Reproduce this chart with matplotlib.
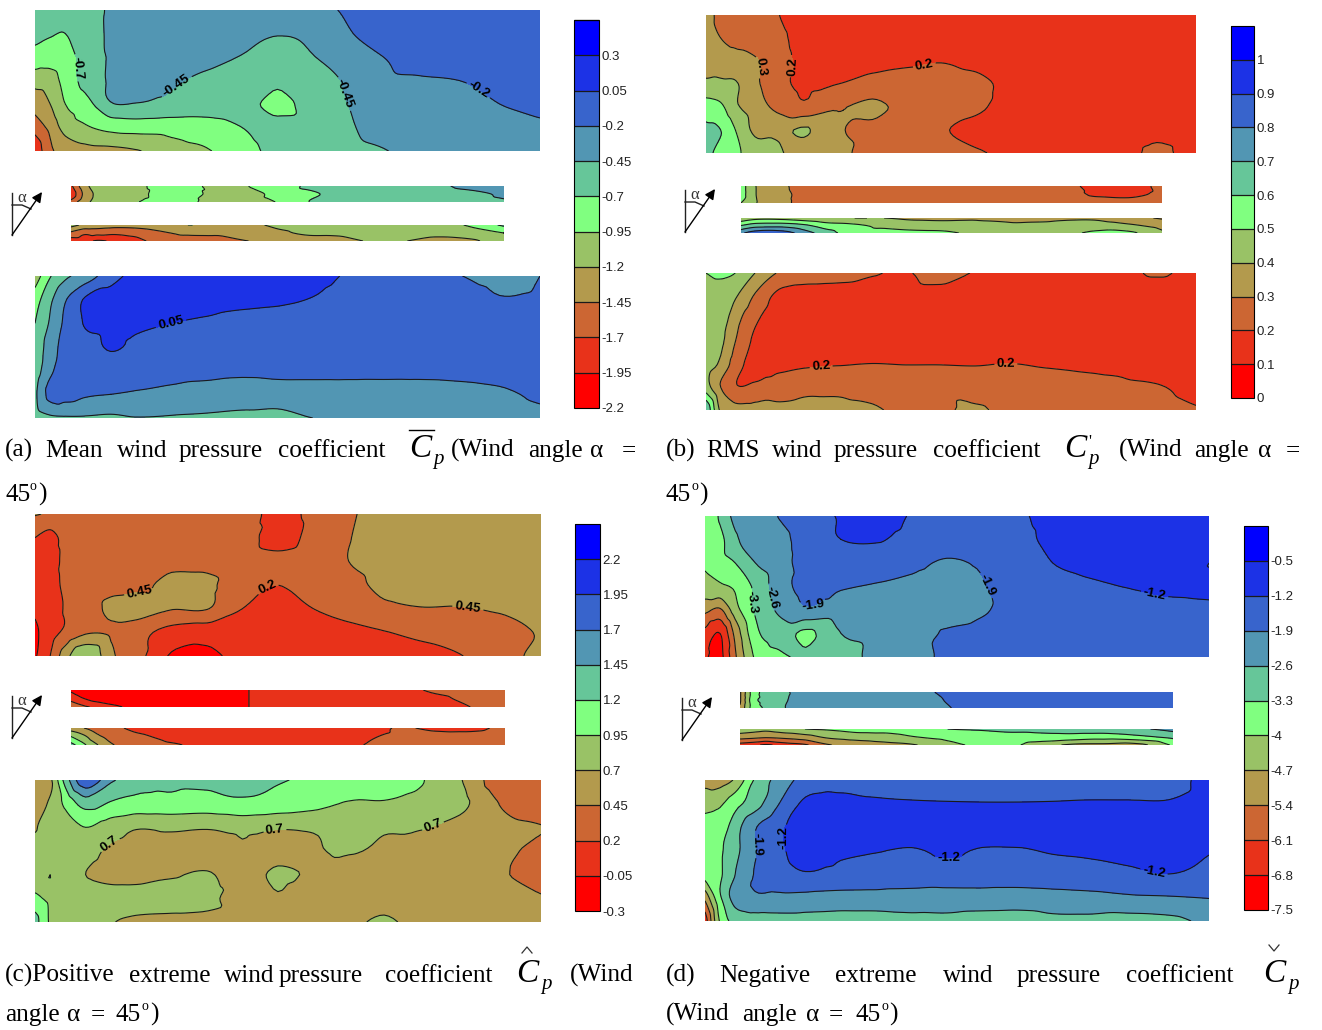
import numpy as np
import matplotlib
matplotlib.use('Agg')
import matplotlib.pyplot as plt
import matplotlib.tri as mtri
from matplotlib.cm import ScalarMappable
from matplotlib.colors import ListedColormap, BoundaryNorm

W, H = 1322, 1030

# ---------------- Shared scale ----------------
band_colors = ['#FF0000', '#E8321A', '#CC6633', '#B39A4D', '#99C266', '#80FF80',
               '#66C699', '#5296B3', '#3864CC', '#1C32E6', '#0000FF']

levels_a = [-2.2, -1.95, -1.7, -1.45, -1.2, -0.95, -0.7, -0.45, -0.2, 0.05, 0.3, 0.55]
levels_b = [0, 0.1, 0.2, 0.3, 0.4, 0.5, 0.6, 0.7, 0.8, 0.9, 1, 1.1]
levels_c = [-0.3, -0.05, 0.2, 0.45, 0.7, 0.95, 1.2, 1.45, 1.7, 1.95, 2.2, 2.45]
levels_d = [-7.5, -6.8, -6.1, -5.4, -4.7, -4, -3.3, -2.6, -1.9, -1.2, -0.5, 0.2]

# position along each strip (fraction of its width), same for all strips
stations = [0, .03, .06, .10, .15, .20, .27, .34, .41, .48, .55, .62, .69, .76, .84, .92, 1]

# ---------------- (a) mean ----------------
a_top = [
    [-.6, -.6, -.6, -.55, -.42, -.33, -.3, -.3, -.3, -.3, -.27, -.17, -.08, -.05, -.05, -.05, -.05],
    [-.62, -.68, -.7, -.55, -.42, -.33, -.3, -.3, -.38, -.44, -.4, -.22, -.1, -.05, -.05, -.05, -.05],
    [-.8, -.82, -.78, -.62, -.42, -.33, -.33, -.38, -.46, -.52, -.46, -.3, -.2, -.12, -.12, -.08, -.05],
    [-1.1, -1.08, -.85, -.62, -.42, -.35, -.42, -.5, -.55, -.64, -.55, -.42, -.25, -.22, -.2, -.15, -.1],
    [-1.35, -1.2, -.95, -.8, -.47, -.46, -.52, -.55, -.57, -.8, -.55, -.45, -.32, -.3, -.27, -.2, -.12],
    [-1.6, -1.38, -1.1, -.98, -.88, -.85, -.85, -.82, -.7, -.6, -.55, -.47, -.38, -.33, -.3, -.3, -.25],
    [-1.9, -1.5, -1.38, -1.3, -1.28, -1.22, -1.05, -.97, -.8, -.62, -.55, -.5, -.46, -.38, -.33, -.33, -.3],
]
a_mid1 = [
    [-1.75, -1.3, -1.1, -1.05, -1.05, -.85, -.85, -1.05, -.95, -.85, -.65, -.62, -.6, -.58, -.5, -.4, -.38],
    [-1.9, -1.4, -1.15, -1.1, -1.1, -.85, -.85, -1.05, -1.05, -.85, -.75, -.62, -.6, -.6, -.55, -.5, -.42],
    [-1.6, -1.3, -1.12, -1.08, -.97, -.82, -.9, -1.05, -1.05, -.93, -.7, -.62, -.6, -.6, -.58, -.5, -.47],
]
a_mid2 = [
    [-1.1, -1.25, -1.3, -1.35, -1.35, -1.3, -1.2, -1.25, -1.25, -1.15, -1.1, -1.08, -1.05, -1.05, -1.05, -.92, -.65],
    [-1.5, -1.65, -1.62, -1.65, -1.6, -1.5, -1.4, -1.38, -1.3, -1.25, -1.15, -1.15, -1.12, -1.1, -1.12, -1.05, -.95],
    [-1.85, -1.85, -1.98, -1.9, -1.8, -1.6, -1.6, -1.65, -1.45, -1.42, -1.35, -1.3, -1.18, -1.18, -1.3, -1.25, -1.05],
]
a_bottom = [
    [-1.1, -.72, -.5, -.35, -.05, .12, .15, .15, .15, .15, .12, .03, -.02, -.1, -.19, -.32, -.2],
    [-.82, -.5, -.22, .08, .12, .13, .13, .12, .1, .08, .04, -.03, -.05, -.05, -.02, -.18, -.15],
    [-.7, -.42, -.15, .07, .11, .08, .05, .02, -.02, -.03, -.05, -.05, -.05, -.07, -.07, -.08, -.08],
    [-.65, -.32, -.12, -.04, .07, .01, -.05, -.06, -.06, -.06, -.06, -.06, -.06, -.06, -.06, -.06, -.06],
    [-.6, -.25, -.1, -.05, -.06, -.08, -.1, -.12, -.15, -.13, -.13, -.13, -.13, -.13, -.12, -.1, -.08],
    [-.5, -.12, -.1, -.17, -.2, -.23, -.28, -.33, -.35, -.34, -.33, -.33, -.33, -.33, -.3, -.25, -.15],
    [-.6, -.5, -.48, -.48, -.5, -.46, -.47, -.48, -.5, -.52, -.45, -.42, -.4, -.41, -.38, -.33, -.28],
]

# ---------------- (b) rms ----------------
b_top = [
    [.33, .28, .26, .25, .2, .15, .12, .12, .12, .12, .12, .12, .12, .12, .12, .12, .12],
    [.33, .3, .28, .25, .22, .16, .13, .13, .13, .13, .13, .13, .13, .13, .13, .13, .13],
    [.36, .34, .33, .31, .24, .17, .15, .16, .18, .195, .17, .14, .13, .13, .13, .13, .13],
    [.42, .42, .41, .32, .23, .18, .2, .24, .25, .25, .23, .17, .13, .13, .13, .13, .13],
    [.55, .52, .42, .35, .27, .22, .29, .32, .27, .25, .22, .16, .13, .13, .13, .13, .13],
    [.62, .6, .5, .38, .38, .41, .31, .28, .26, .21, .17, .14, .12, .12, .13, .17, .14],
    [.65, .55, .52, .45, .41, .35, .32, .27, .26, .23, .21, .18, .15, .14, .15, .22, .15],
]
b_mid1 = [
    [.55, .42, .33, .31, .27, .24, .24, .25, .25, .25, .25, .25, .25, .24, .17, .15, .23],
    [.55, .42, .34, .32, .27, .24, .24, .25, .25, .25, .25, .25, .25, .24, .19, .17, .23],
    [.5, .42, .35, .32, .27, .24, .24, .25, .25, .25, .25, .25, .25, .25, .25, .25, .23],
]
b_mid2 = [
    [.42, .46, .47, .46, .43, .41, .4, .4, .38, .37, .38, .38, .37, .38, .38, .33, .29],
    [.6, .65, .66, .66, .62, .55, .52, .47, .45, .45, .45, .42, .42, .43, .45, .42, .36],
    [.78, .85, .88, .85, .75, .65, .55, .55, .53, .52, .48, .44, .43, .46, .52, .52, .42],
]
b_bottom = [
    [.5, .52, .5, .4, .29, .27, .25, .21, .19, .27, .19, .17, .17, .17, .17, .21, .17],
    [.45, .45, .41, .29, .17, .14, .14, .14, .14, .14, .14, .14, .14, .14, .14, .14, .14],
    [.44, .45, .34, .22, .14, .12, .12, .12, .12, .12, .12, .12, .12, .12, .12, .12, .12],
    [.44, .42, .3, .18, .13, .12, .12, .12, .12, .12, .12, .12, .12, .12, .12, .12, .12],
    [.45, .38, .25, .16, .17, .185, .195, .203, .198, .198, .195, .203, .19, .18, .165, .13, .12],
    [.45, .3, .21, .22, .26, .28, .28, .27, .27, .28, .26, .25, .25, .24, .23, .21, .16],
    [.7, .38, .34, .34, .32, .32, .32, .31, .28, .29, .31, .28, .28, .28, .26, .24, .21],
]

# ---------------- (c) positive extreme ----------------
c_top = [
    [.47, .42, .33, .32, .32, .32, .32, .32, .28, .15, .25, .42, .52, .55, .55, .55, .55],
    [.2, .1, .3, .33, .33, .33, .33, .33, .29, .12, .27, .44, .54, .56, .56, .56, .56],
    [.1, .08, .27, .33, .34, .34, .4, .38, .32, .26, .33, .45, .52, .55, .55, .55, .55],
    [.05, .1, .25, .33, .38, .4, .5, .5, .28, .2, .3, .38, .5, .52, .52, .54, .55],
    [-.02, .08, .22, .33, .5, .55, .46, .46, .2, .12, .2, .3, .4, .44, .44, .47, .48],
    [-.1, .1, .25, .42, .42, .3, .1, .05, .1, .07, .07, .13, .19, .25, .3, .37, .47],
    [-.08, .2, .6, .95, .5, .3, -.08, -.12, .05, .06, .07, .08, .1, .12, .19, .35, .53],
]
c_mid1 = [
    [-.1, -.2, -.2, -.2, -.2, -.2, -.2, -.2, -.05, .05, .05, .05, .05, .1, .25, .3, .3],
    [.1, -.05, -.15, -.2, -.2, -.2, -.2, -.2, -.05, .05, .05, .05, .05, .07, .15, .25, .3],
    [.45, .25, .15, 0, -.12, -.2, -.2, -.2, -.05, .05, .05, .05, .05, .05, .1, .2, .28],
]
c_mid2 = [
    [.55, .45, .35, .28, .1, .05, .05, .05, .05, .05, .05, .08, .12, .22, .15, .15, .25],
    [.95, .75, .5, .38, .27, .17, .05, .05, .05, .05, .05, .1, .18, .25, .27, .27, .3],
    [1.3, 1, .72, .45, .35, .28, .18, .05, .05, .05, .05, .13, .22, .3, .32, .32, .32],
]
c_bottom = [
    [.5, .65, 1.3, 1.9, 1.5, 1.3, 1.25, 1.25, 1.25, 1.22, 1.15, 1.1, 1.05, .97, .72, .3, .35],
    [.5, .75, 1, 1.3, 1.17, 1.12, 1.12, 1.1, 1.15, 1.1, 1.03, .93, .93, .88, .77, .44, .3],
    [.68, .8, .82, .95, .82, .72, .74, .72, .76, .72, .73, .78, .73, .72, .62, .52, .46],
    [.82, .8, .8, .78, .66, .63, .63, .6, .68, .63, .68, .72, .65, .55, .55, .52, .35],
    [.85, .95, .82, .7, .62, .62, .68, .72, .6, .74, .66, .55, .52, .52, .52, .48, .3],
    [1, .9, .82, .82, .82, .8, .8, .78, .55, .68, .55, .55, .6, .52, .52, .53, .47],
    [1.3, .92, .85, .9, .72, .65, .62, .6, .55, .5, .55, .62, .75, .58, .52, .52, .52],
]

# ---------------- (d) negative extreme ----------------
d_top = [
    [-3.9, -3.2, -2.4, -2.3, -1.85, -1.5, -1.15, -.9, -1.25, -1.5, -1.5, -1.3, -1, -.9, -.9, -1, -1],
    [-3.8, -3.5, -2.7, -2.4, -2.1, -1.6, -1.2, -1.15, -1.4, -1.5, -1.5, -1.4, -1.05, -.95, -.95, -1, -1],
    [-3.9, -3.6, -3.3, -2.6, -2.2, -1.6, -1.6, -1.6, -1.7, -2, -1.8, -1.55, -1.2, -1.05, -1.05, -1.05, -1.2],
    [-4.3, -4.1, -3.9, -3.15, -2.2, -1.7, -1.85, -1.95, -2.1, -2.3, -1.95, -1.6, -1.45, -1.3, -1.18, -1.1, -1.1],
    [-5.2, -5.5, -4.3, -3.2, -2.45, -2, -2.2, -2.25, -2.3, -2.4, -2, -1.6, -1.6, -1.55, -1.5, -1.35, -1.3],
    [-6.3, -6.8, -5.2, -3.5, -3, -3.45, -2.6, -2.45, -2.3, -1.8, -1.6, -1.55, -1.5, -1.5, -1.5, -1.5, -1.5],
    [-6.7, -7, -5.5, -3.9, -3.4, -3.2, -2.9, -2.4, -2.1, -1.8, -1.6, -1.6, -1.6, -1.6, -1.7, -1.85, -1.8],
]
d_mid1 = [
    [-5.5, -3.7, -3.1, -2.75, -2.3, -2.3, -2.3, -2.3, -2.1, -1.75, -1.5, -1.5, -1.5, -1.5, -1.5, -1.5, -1.5],
    [-5.5, -3.6, -3.1, -2.7, -2.3, -2.3, -2.3, -2.3, -2.2, -1.85, -1.5, -1.5, -1.5, -1.5, -1.5, -1.5, -1.5],
    [-5.3, -3.7, -3.2, -2.65, -2.3, -2.3, -2.3, -2.3, -2.25, -1.95, -1.5, -1.5, -1.5, -1.5, -1.5, -1.5, -1.5],
]
d_mid2 = [
    [-4.3, -4.4, -4.5, -4.3, -4, -3.9, -3.7, -3.7, -3.5, -3.3, -3.2, -3, -3, -2.9, -2.9, -2.7, -2.4],
    [-5.1, -5.2, -5.3, -5.2, -5, -4.6, -4.4, -4.3, -4, -3.8, -3.8, -3.7, -3.6, -3.6, -3.7, -3.5, -3.1],
    [-6.4, -6.6, -6.9, -6.5, -6.2, -5.5, -5.1, -4.9, -4.7, -4.2, -3.9, -3.85, -4.3, -4.8, -4.9, -4.9, -3.9],
]
d_bottom = [
    [-4.9, -5, -4.6, -3.2, -2.3, -1.65, -1.55, -1.5, -1.5, -1.5, -1.5, -1.5, -1.5, -1.5, -1.5, -1.45, -.95],
    [-4.3, -4.1, -3.55, -2.9, -1.85, -1.05, -.95, -1.1, -1.15, -1.17, -1.18, -1.18, -1.17, -1.15, -1.15, -1.15, -.95],
    [-3.7, -3.7, -2.9, -1.95, -1.3, -.9, -.85, -.85, -.85, -.85, -.85, -.85, -.85, -.85, -.85, -.85, -.85],
    [-3.7, -3.4, -2.8, -1.95, -1.3, -.95, -1.1, -1.17, -1.25, -1.1, -1.25, -1.25, -1.15, -1.1, -1, -.9, -1.15],
    [-3.8, -3.4, -2.6, -1.85, -1.45, -1.25, -1.4, -1.45, -1.55, -1.5, -1.5, -1.55, -1.5, -1.45, -1.35, -1.2, -1.4],
    [-5.2, -3.4, -2.3, -2, -2.05, -2.1, -2.15, -2.15, -2.15, -2.2, -2.2, -2.2, -2.15, -2.1, -2, -1.95, -1.87],
    [-6.5, -3.9, -3.1, -2.95, -2.9, -2.9, -2.95, -2.95, -2.85, -2.8, -2.9, -2.95, -2.8, -2.8, -2.9, -2.8, -2.4],
]

# ---------------- Contour labels: (along strip, across strip), snapped to the nearest line ----------------
a_top_labels = [(.085, .41), (.29, .585), (.604, .603), (.893, .489)]
a_bottom_labels = [(.27, .345)]
b_top_labels = [(.106, .377), (.165, .377), (.447, .384)]
b_bottom_labels = [(.235, .686), (.612, .657)]
c_top_labels = [(.207, .563), (.468, .57), (.856, .648)]
c_bottom_labels = [(.146, .444), (.474, .345), (.788, .338)]
d_top_labels = [(.091, .61), (.127, .58), (.21, .58), (.55, .504), (.893, .539)]
d_bottom_labels = [(.097, .461), (.153, .411), (.484, .532), (.891, .645)]

cmap = ListedColormap(band_colors)
fig = plt.figure(figsize=(W / 100, H / 100), dpi=100)


def pixel_axes(x0, y0, x1, y1):
    return fig.add_axes([x0 / W, 1 - y1 / H, (x1 - x0) / W, (y1 - y0) / H])


# ---------------- Contour strip ----------------
def draw_strip(rect, values, levels, labels=None):
    ax = pixel_axes(*rect)
    z = np.array(values, dtype=float).ravel()
    across = np.linspace(0, 1, len(values))
    xx, yy = np.meshgrid(stations, across)
    triang = mtri.Triangulation(xx.ravel(), yy.ravel())
    interp = mtri.CubicTriInterpolator(triang, z, kind='geom')
    fine, fine_z = mtri.UniformTriRefiner(triang).refine_field(z, triinterpolator=interp, subdiv=3)
    fine_z = np.clip(fine_z, levels[0] + 1e-3, levels[-1] - 1e-3)
    ax.tricontourf(fine, fine_z, levels=levels, colors=band_colors)
    cs = ax.tricontour(fine, fine_z, levels=levels[1:-1], colors='#1a1a1a',
                       linewidths=0.8, linestyles='solid')
    ax.set_xlim(0, 1)
    ax.set_ylim(1, 0)
    ax.axis('off')
    if labels:
        texts = cs.clabel(manual=labels, fmt='%g', fontsize=9.5, inline=True, inline_spacing=1)
        for t in texts:
            t.set_fontfamily('Liberation Sans')
            t.set_fontweight('bold')
            t.set_color('black')


def draw_colorbar(rect, levels):
    cax = pixel_axes(*rect)
    norm = BoundaryNorm(levels, cmap.N)
    cb = fig.colorbar(ScalarMappable(norm=norm, cmap=cmap), cax=cax, spacing='uniform',
                      ticks=levels[:-1], drawedges=True)
    cb.ax.set_yticklabels(['%g' % v for v in levels[:-1]], fontsize=9.5,
                          family='Liberation Sans', color='#222222')
    cb.ax.minorticks_off()
    cb.ax.tick_params(which='both', length=0, pad=2)
    cb.outline.set_linewidth(0.8)
    cb.dividers.set_linewidth(0.9)
    cb.dividers.set_color('#1a1a1a')


draw_strip((35, 10, 540, 151), a_top, levels_a, a_top_labels)
draw_strip((71, 186, 504, 202), a_mid1, levels_a)
draw_strip((71, 225, 504, 241), a_mid2, levels_a)
draw_strip((35, 276, 540, 418), a_bottom, levels_a, a_bottom_labels)
draw_colorbar((574, 20, 599, 408), levels_a)

draw_strip((706, 15, 1196, 153), b_top, levels_b, b_top_labels)
draw_strip((741, 186, 1162, 203), b_mid1, levels_b)
draw_strip((741, 218, 1162, 233), b_mid2, levels_b)
draw_strip((706, 273, 1196, 410), b_bottom, levels_b, b_bottom_labels)
draw_colorbar((1231, 26, 1254, 398), levels_b)

draw_strip((35, 514, 541, 656), c_top, levels_c, c_top_labels)
draw_strip((71, 690, 505, 707), c_mid1, levels_c)
draw_strip((71, 728, 505, 745), c_mid2, levels_c)
draw_strip((35, 780, 541, 922), c_bottom, levels_c, c_bottom_labels)
draw_colorbar((575, 524, 600, 911), levels_c)

draw_strip((705, 516, 1209, 657), d_top, levels_d, d_top_labels)
draw_strip((740, 692, 1173, 708), d_mid1, levels_d)
draw_strip((740, 729, 1173, 745), d_mid2, levels_d)
draw_strip((705, 780, 1209, 921), d_bottom, levels_d, d_bottom_labels)
draw_colorbar((1244, 526, 1268, 910), levels_d)

# ---------------- Overlay in pixel coordinates: captions and wind angle sketch ----------------
over = fig.add_axes([0, 0, 1, 1])
over.set_xlim(0, W)
over.set_ylim(H, 0)
over.axis('off')
over.patch.set_alpha(0)

SERIF = 'Liberation Serif'
TEXT_SIZE = 18.2


def words(items, y):
    for x, s in items:
        over.text(x, y, s, family=SERIF, fontsize=TEXT_SIZE, va='baseline', color='black')


def cp(x, px, y):
    over.text(x, y, 'C', family=SERIF, style='italic', fontsize=24, va='baseline')
    over.text(px, y + 7, 'p', family=SERIF, style='italic', fontsize=15, va='baseline')


def degree(x, y):
    over.text(x, y - 11, 'o', family=SERIF, fontsize=10, va='baseline')
    over.text(x + 8, y, ')', family=SERIF, fontsize=TEXT_SIZE, va='baseline')


def wind_sketch(x0, y0):
    over.plot([x0, x0], [y0, y0 - 42], color='#222222', lw=1)
    over.plot([x0, x0 + 10, x0 + 19], [y0 - 30, y0 - 30, y0 - 26], color='#222222', lw=1)
    over.annotate('', xy=(x0 + 30, y0 - 43), xytext=(x0, y0),
                  arrowprops=dict(arrowstyle='-|>', color='black', lw=1, mutation_scale=15,
                                  shrinkA=0, shrinkB=0))
    over.text(x0 + 10, y0 - 33, 'α', family=SERIF, fontsize=12, ha='center', va='baseline', color='#333333')


wind_sketch(12, 235)
wind_sketch(685, 232)
wind_sketch(12, 738)
wind_sketch(682, 740)

# (a)
words([(5, '(a)'), (45, 'Mean'), (117, 'wind'), (179, 'pressure'), (278, 'coefficient'),
       (451, '(Wind'), (528, 'angle'), (590, 'α'), (622, '=')], 457)
cp(409, 433, 457)
over.plot([409, 434], [430, 430], color='black', lw=1)
words([(5, '45')], 501)
degree(30, 501)

# (b)
words([(666, '(b)'), (706, 'RMS'), (772, 'wind'), (834, 'pressure'), (933, 'coefficient'),
       (1119, '(Wind'), (1194, 'angle'), (1258, 'α'), (1286, '=')], 457)
cp(1064, 1088, 457)
over.text(1088, 446, "'", family=SERIF, fontsize=12, va='baseline')
words([(666, '45')], 501)
degree(691, 501)

# (c)
words([(5, '(c)Positive'), (129, 'extreme'), (224, 'wind'), (279, 'pressure'), (385, 'coefficient'),
       (570, '(Wind')], 982)
cp(516, 541, 982)
over.plot([522, 527, 532], [953, 947, 953], color='#333333', lw=0.9)
words([(5, 'angle'), (67, 'α'), (91, '='), (116, '45')], 1021)
degree(142, 1021)

# (d)
words([(666, '(d)'), (719, 'Negative'), (835, 'extreme'), (943, 'wind'), (1017, 'pressure'),
       (1126, 'coefficient')], 982)
cp(1263, 1288, 982)
over.plot([1269, 1274, 1279], [945, 951, 945], color='#333333', lw=0.9)
words([(666, '(Wind'), (742, 'angle'), (806, 'α'), (829, '='), (855, '45')], 1021)
degree(881, 1021)

fig.savefig('out.png', dpi=100, facecolor='white')
